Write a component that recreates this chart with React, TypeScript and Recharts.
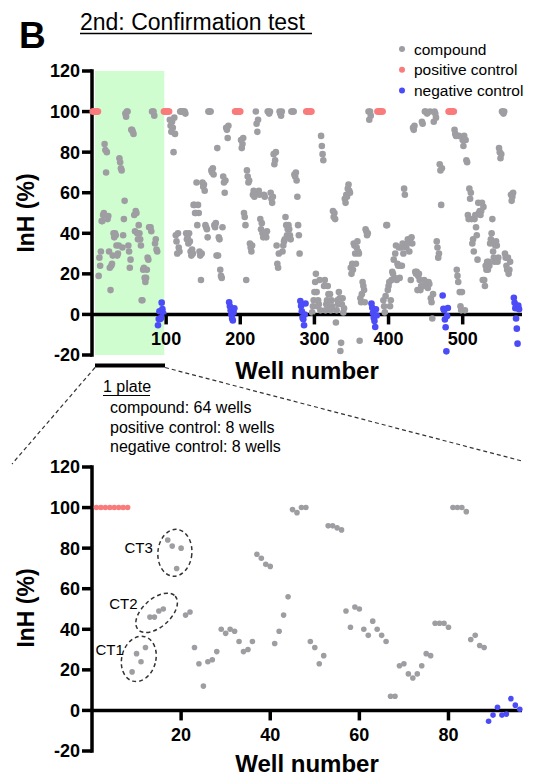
import React from 'react';
import {
  ScatterChart,
  Scatter,
  XAxis,
  YAxis,
  ReferenceArea,
  ReferenceLine,
  ReferenceDot,
} from 'recharts';

const FONT = '"Liberation Sans", Arial, Helvetica, sans-serif';
const GRAY = '#9e9ea2';
const PINK = '#fa7b7b';
const BLUE = '#4b4bf7';

const Y_TICKS = [-20, 0, 20, 40, 60, 80, 100, 120];
const OVERVIEW_X_TICKS = [100, 200, 300, 400, 500];
const PLATE_X_TICKS = [20, 40, 60, 80];

// wells 1-8 of every plate
const positiveControl = [100, 100, 100, 100, 100, 100, 100, 100];

// compound wells 9-88 of every plate (InH %)
const compoundPlate1 = [
  19, 28, 24, 31, 46, 46, 49, 50, 84, 81, 70, 80, 47, 48.5, 31, 23,
  12, 24, 25, 29, 40, 38, 40, 39, 34, 29, 30, 34, 77, 75, 72, 71,
  33, 39, 47, 56, 99, 97.5, 100, 100, 34, 31, 23, 27, 91, 91, 90, 89,
  49, 41, 51, 50, 40, 37, 44, 40, 37, 34, 7, 7, 22, 23, 18, 16,
  18, 22, 28, 27, 43, 43, 43, 41, 100, 100, 100, 98, 35, 37, 32, 31,
];
const compoundPlate2 = [
  96, 93, 90, 95, 92, 80, 97, 89, 39, 36, 30, 40, 33, 31, 100, 100,
  100, 100, 100, 100, 100, 99, 40, 37, 38, 35, 40, 36, 31, 29, 32, 30,
  54, 54, 50, 50, 65, 44, 54, 50, 31, 29, 17, 30, 65, 63, 64, 61,
  44, 43, 42, 38, 100, 100, 100, 100, 71, 70, 72, 69, 44, 43, 45, 29,
  82, 29, 38, 37, 22, 19, 18, 43, 68, 65, 60, 66, 92, 91, 87, 93,
];
const compoundPlate3 = [
  86, 82, 84, 87, 50, 48, 44, 17, 71, 68, 65, 66, 35, 33, 31, 34,
  59, 61, 58, 60, 100, 94, 90, 96, 61, 59, 47, 42, 45, 40, 38, 59,
  58, 40, 38, 41, 100, 100, 99, 100, 60, 57, 55, 58, 79, 74, 76, 80,
  34, 25, 23, 30, 100, 99, 98, 100, 31, 34, 36, 37, 48, 44, 39, 42,
  44, 42, 39, 37, 100, 100, 100, 100, 69, 68, 70, 66, 58, 44, 39, 30,
];
const compoundPlate4 = [
  1, 4, 7, 11, 16, 20, 11, 4, 7, 5, 17, 2, 88, 83, 79, 76,
  14, 17, 2, 5, 7, 14, 10, 4, 10, 2, 7, 4, 51, 48, 50, 47,
  -4, 2, 7, 5, 11, 8, -18, -14, 5, 8, 1, 3, 57, 55, 59, 58,
  62, 64, 61, 60, 23, 20, 25, 22, 35, 34, 30, 25, 33, 36, 31, 30,
  -13, 8, 6, 10, 16, 14, 12, 6, 42, 41, 39, 40, 100, 96, 100, 98,
];
const compoundPlate5 = [
  7, 4, 1, 9, 44, 44, 12, 14, 16, 4, 7, 17, 21, 20, 27, 18,
  30, 34, 17, 25, 24, 33, 18, 24, 33, 24, 35, 30, 62, 59, 34, 33,
  35, 37, 36, 31, 37, 17, 38, 35, 92, 91, 93, 21, 20, 21, 12, 19,
  20, 17, 12, 14, 95, 94, 14, 17, 100, 100, 16, 99, 13, 16, 15, 100,
  8, 6, -2, 10, 95, 100, 99, 97, 36, 33, 28, 30, 74, 71, 54, 72,
];
const compoundPlate6 = [
  91, 89, 88, 22, 19, 16, 88, 11, 4, 2, 11, 86, 83, 88, 2, 86,
  76, 75, 49, 47, 62, 57, 60, 47, 35, 37, 31, 47, 49, 43, 39, 27,
  55, 50, 51, 49, 51, 55, 17, 53, 17, 14, 24, 22, 26, 22, 26, 24,
  35, 37, 40, 47, 31, 28, 26, 34, 36, 34, 26, 28, 82, 80, 77, 79,
  100, 100, 99, 100, 30, 28, 24, 22, 28, 20, 22, 26, 59, 56, 58, 60,
];

// wells 89-96 of every plate
const negativePlate1 = [-5.3, -2.3, 1.6, -2.3, -1.8, 5.8, 2.6, 0.6];
const negativePlate2 = [6, 4, 2, 0, -2, -3, 1, 3];
const negativePlate3 = [6.6, 4.1, 1.6, -1.6, -2.4, -5.3, 0, 5.4];
const negativePlate4 = [5.4, 3.3, 0.8, -1.6, -3.3, -6.2, 2.5, -0.5];
const negativePlate5 = [9.3, 2.8, 2.1, -2.5, -6.3, -18.2, -0.8, 3.2];
const negativePlate6 = [8.2, 5.7, 3.1, -2, -7, -14.4, 4.4, 2.6];

const compoundPlates = [compoundPlate1, compoundPlate2, compoundPlate3, compoundPlate4, compoundPlate5, compoundPlate6];
const negativePlates = [negativePlate1, negativePlate2, negativePlate3, negativePlate4, negativePlate5, negativePlate6];

type Pt = { well: number; value: number };
const toPoints = (values: number[], firstWell: number): Pt[] =>
  values.map((v, i) => ({ well: firstWell + i, value: v }));

const overviewCompound = compoundPlates.flatMap((vals, p) => toPoints(vals, p * 96 + 9));
const overviewPositive = compoundPlates.flatMap((_, p) => toPoints(positiveControl, p * 96 + 1));
const overviewNegative = negativePlates.flatMap((vals, p) => toPoints(vals, p * 96 + 89));

const plateCompound = toPoints(compoundPlate1, 9);
const platePositive = toPoints(positiveControl, 1);
const plateNegative = toPoints(negativePlate1, 89);

// dashed circles around the confirmed hits
const ctRegions = [
  { name: 'CT1', well: 10.5, value: 25.4, rx: 17, ry: 23, angle: 15, dx: -15, dy: -9.5 },
  { name: 'CT2', well: 14.5, value: 48.1, rx: 25, ry: 14, angle: -42, dx: -19, dy: -9.5 },
  { name: 'CT3', well: 18.6, value: 77.7, rx: 17, ry: 23.5, angle: 5, dx: -22, dy: -5.7 },
];

const CHART_W = 541;
const CHART_H = 385;
const PLOT_TOP = 71;
const PLOT_H = 284;
const AXIS_ZERO = PLOT_TOP + (PLOT_H * 120) / 140;

const xTick = (props: any) => {
  const { x, payload } = props;
  return (
    <g>
      <line x1={x} x2={x} y1={AXIS_ZERO} y2={AXIS_ZERO + 10} stroke="#000" strokeWidth={3.5} />
      <text
        x={x}
        y={AXIS_ZERO + 31}
        textAnchor="middle"
        fontSize={18}
        fontWeight="bold"
        fontFamily={FONT}
        fill="#000"
      >
        {payload.value}
      </text>
    </g>
  );
};

const dot = (color: string, r: number) => (p: any) => <circle cx={p.cx} cy={p.cy} r={r} fill={color} />;

function Panel({
  domain,
  ticks,
  compound,
  positive,
  negative,
  r,
  children,
}: {
  domain: [number, number];
  ticks: number[];
  compound: Pt[];
  positive: Pt[];
  negative: Pt[];
  r: number;
  children?: React.ReactNode;
}) {
  return (
    <ScatterChart width={CHART_W} height={CHART_H} margin={{ top: PLOT_TOP, right: 19, bottom: 0, left: 0 }}>
      <XAxis
        type="number"
        dataKey="well"
        domain={domain}
        ticks={ticks}
        height={30}
        axisLine={false}
        tickLine={false}
        tick={xTick}
        interval={0}
      />
      <YAxis
        type="number"
        dataKey="value"
        domain={[-20, 120]}
        ticks={Y_TICKS}
        interval={0}
        width={92}
        axisLine={{ stroke: '#000', strokeWidth: 3.5, strokeLinecap: 'square' }}
        tickLine={{ stroke: '#000', strokeWidth: 3.5 }}
        tickSize={10}
        tickMargin={2}
        tick={{ fontSize: 18, fontWeight: 'bold', fill: '#000', fontFamily: FONT }}
      />
      {children}
      <Scatter name="compound" data={compound} shape={dot(GRAY, r)} isAnimationActive={false} />
      <Scatter name="positive control" data={positive} shape={dot(PINK, r)} isAnimationActive={false} />
      <Scatter name="negative control" data={negative} shape={dot(BLUE, r)} isAnimationActive={false} />
      <ReferenceLine y={0} stroke="#000" strokeWidth={3.5} />
    </ScatterChart>
  );
}

const legendItems = [
  { label: 'compound', color: GRAY },
  { label: 'positive control', color: PINK },
  { label: 'negative control', color: BLUE },
];

const plateNotes = ['compound: 64 wells', 'positive control: 8 wells', 'negative control: 8 wells'];

export default function App() {
  return (
    <div style={{ position: 'absolute', left: 0, top: 0, width: 541, height: 777, background: '#fff', fontFamily: FONT }}>
      <div style={{ position: 'absolute', left: 0, top: 0 }}>
        <Panel
          domain={[0, 580]}
          ticks={OVERVIEW_X_TICKS}
          compound={overviewCompound}
          positive={overviewPositive}
          negative={overviewNegative}
          r={3.3}
        >
          <ReferenceArea x1={4} x2={97.5} y1={-20} y2={120} fill="#d0fdd0" fillOpacity={1} stroke="none" />
        </Panel>
      </div>
      <div style={{ position: 'absolute', left: 0, top: 396 }}>
        <Panel
          domain={[0, 96.5]}
          ticks={PLATE_X_TICKS}
          compound={plateCompound}
          positive={platePositive}
          negative={plateNegative}
          r={2.8}
        >
          {ctRegions.map((c) => (
            <ReferenceDot
              key={c.name}
              x={c.well}
              y={c.value}
              r={0}
              shape={(p: any) => (
                <g>
                  <ellipse
                    cx={p.cx}
                    cy={p.cy}
                    rx={c.rx}
                    ry={c.ry}
                    transform={`rotate(${c.angle} ${p.cx} ${p.cy})`}
                    fill="none"
                    stroke="#333"
                    strokeWidth={1.5}
                    strokeDasharray="4 3"
                  />
                  <text
                    x={p.cx + c.dx}
                    y={p.cy + c.dy}
                    textAnchor="end"
                    dominantBaseline="central"
                    fontSize={15}
                    fontFamily={FONT}
                    fill="#000"
                  >
                    {c.name}
                  </text>
                </g>
              )}
            />
          ))}
        </Panel>
      </div>
      <svg
        width={541}
        height={777}
        style={{ position: 'absolute', left: 0, top: 0, pointerEvents: 'none' }}
        fontFamily={FONT}
      >
        <text x={19} y={48} fontSize={37} fontWeight="bold" fill="#000">B</text>
        <text x={80} y={29.5} fontSize={23} fill="#000">2nd: Confirmation test</text>
        <line x1={80} x2={312} y1={33.5} y2={33.5} stroke="#000" strokeWidth={1.5} />

        {legendItems.map((it, i) => (
          <g key={it.label}>
            <circle cx={402} cy={49 + i * 20.7} r={3} fill={it.color} />
            <text x={414} y={49 + i * 20.7} dominantBaseline="central" fontSize={15.5} fill="#000">
              {it.label}
            </text>
          </g>
        ))}

        <text x={26} y={213} transform="rotate(-90 26 213)" textAnchor="middle" dominantBaseline="central" fontSize={23} fontWeight="bold" fill="#000">
          InH (%)
        </text>
        <text x={26} y={608} transform="rotate(-90 26 608)" textAnchor="middle" dominantBaseline="central" fontSize={23} fontWeight="bold" fill="#000">
          InH (%)
        </text>
        <text x={307} y={378.5} textAnchor="middle" fontSize={24} fontWeight="bold" fill="#000">Well number</text>
        <text x={307} y={772} textAnchor="middle" fontSize={24} fontWeight="bold" fill="#000">Well number</text>

        <rect x={95} y={363.5} width={70} height={4} fill="#000" />
        <line x1={95} y1={367.5} x2={12} y2={464} stroke="#333" strokeWidth={1.2} strokeDasharray="4 3" />
        <line x1={165} y1={367.5} x2={522} y2={461} stroke="#333" strokeWidth={1.2} strokeDasharray="4 3" />

        <text x={103} y={392} fontSize={16} fill="#000">1 plate</text>
        <line x1={103} x2={150} y1={395.5} y2={395.5} stroke="#000" strokeWidth={1.2} />
        {plateNotes.map((t, i) => (
          <text key={t} x={110} y={413 + i * 19.5} fontSize={16} fill="#000">{t}</text>
        ))}
      </svg>
    </div>
  );
}
